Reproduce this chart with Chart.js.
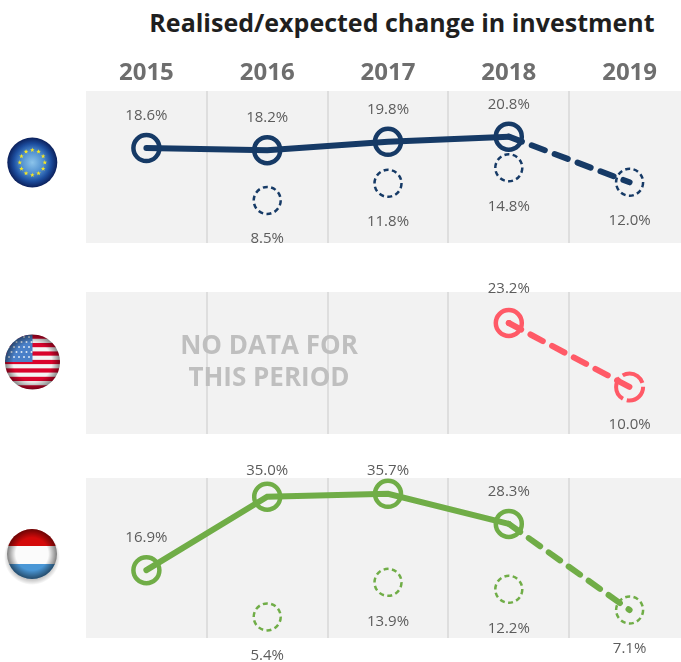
<!DOCTYPE html>
<html>
<head>
<meta charset="utf-8">
<title>Realised/expected change in investment</title>
<script src="https://cdn.jsdelivr.net/npm/chart.js@4"></script>
<style>
    html, body { margin: 0; padding: 0; width: 681px; height: 662px; overflow: hidden; background: #fff; }
    body { position: relative; font-family: 'Open Sans', sans-serif; }
    canvas { position: absolute; left: 86px; }
    svg { position: absolute; left: 0; }
    #titulo { position: absolute; left: 0; width: 804px; top: 5px; text-align: center; font-size: 25px; font-weight: 700; color: #1f1f1f; white-space: nowrap; }
    #sem-dados { position: absolute; left: 149px; width: 240px; top: 328px; text-align: center; font-size: 26px; line-height: 32px; font-weight: 700; color: #bfbfbf; }
</style>
</head>
<body>
<div id="titulo">Realised/expected change in investment</div>

<canvas id="grafico-eu" style="top:50px"></canvas>
<canvas id="grafico-us" style="top:262px"></canvas>
<canvas id="grafico-lu" style="top:455px"></canvas>
<div id="sem-dados">NO DATA FOR<br>THIS PERIOD</div>

<svg id="flag-eu" width="64" height="64" style="top:131px" viewBox="0 0 64 64"></svg>
<svg id="flag-us" width="64" height="70" style="top:327px" viewBox="0 0 64 70"></svg>
<svg id="flag-lu" width="64" height="70" style="top:522px" viewBox="0 0 64 70"></svg>

<script>
// Data
const years = ['2015', '2016', '2017', '2018', '2019'];

const euRealised = [18.6, 18.2, 19.8, 20.8, null];
const euForecast = [null, null, null, 20.8, 12.0];
const euExpected = [null, 8.5, 11.8, 14.8, 12.0];

const usRealised = [null, null, null, 23.2, null];
const usForecast = [null, null, null, 23.2, 10.0];
const usExpected = [null, null, null, null, 10.0];

const luRealised = [16.9, 35.0, 35.7, 28.3, null];
const luForecast = [null, null, null, 28.3, 7.1];
const luExpected = [null, 5.4, 13.9, 12.2, 7.1];

// Panel background, dashed rings and value labels
const panelPlugin = {
    id: 'panel',
    beforeDraw(chart) {
        const { ctx, chartArea: a } = chart;
        ctx.save();
        ctx.fillStyle = '#f2f2f2';
        ctx.fillRect(a.left, a.top, a.right - a.left, a.bottom - a.top);
        ctx.restore();
    },
    beforeDatasetDraw(chart, args) {
        chart.ctx.save();
        if (chart.data.datasets[args.index].ringDash) {
            chart.ctx.setLineDash(chart.data.datasets[args.index].ringDash);
        }
    },
    afterDatasetDraw(chart) {
        chart.ctx.restore();
    },
    afterDatasetsDraw(chart) {
        const { ctx, chartArea: a } = chart;
        ctx.save();
        ctx.font = '15px "Open Sans"';
        ctx.fillStyle = '#5c5c5c';
        ctx.textAlign = 'center';
        ctx.textBaseline = 'middle';
        chart.data.datasets.forEach((ds, i) => {
            if (!ds.labelGap) return;
            chart.getDatasetMeta(i).data.forEach((pt, j) => {
                if (ds.data[j] === null) return;
                let y = pt.y + ds.labelGap;
                // points close to the top edge keep their label just over the panel
                if (ds.labelGap < 0 && pt.y - a.top < 20) y = a.top - 7;
                ctx.fillText(ds.data[j].toFixed(1) + '%', pt.x, y);
            });
        });
        ctx.restore();
    }
};

function criarGrafico(id, cfg) {
    const canvas = document.getElementById(id);
    canvas.width = 604;
    canvas.height = cfg.height;
    canvas.style.width = '604px';
    canvas.style.height = cfg.height + 'px';

    return new Chart(canvas.getContext('2d'), {
        type: 'line',
        plugins: [panelPlugin],
        data: {
            labels: years,
            datasets: [
                {
                    data: cfg.realised,
                    labelGap: cfg.gapAbove,
                    borderColor: cfg.color,
                    borderWidth: 6,
                    borderCapStyle: 'round',
                    pointRadius: 13,
                    pointHoverRadius: 13,
                    pointBorderWidth: 4.5,
                    pointBorderColor: cfg.color,
                    pointBackgroundColor: 'transparent',
                    spanGaps: false
                },
                {
                    data: cfg.forecast,
                    borderColor: cfg.color,
                    borderWidth: 6,
                    borderCapStyle: 'round',
                    borderDash: [14, 10.5],
                    pointRadius: 0,
                    spanGaps: false
                },
                {
                    data: cfg.expected,
                    labelGap: cfg.gapBelow,
                    showLine: false,
                    ringDash: cfg.ringDash,
                    pointRadius: 13.5,
                    pointHoverRadius: 13.5,
                    pointBorderWidth: cfg.ringWidth,
                    pointBorderColor: cfg.color,
                    pointBackgroundColor: 'transparent'
                }
            ]
        },
        options: {
            responsive: false,
            animation: false,
            devicePixelRatio: 1,
            layout: { autoPadding: false, padding: { top: cfg.padTop, bottom: cfg.padBottom, left: 0, right: 0 } },
            plugins: { legend: { display: false }, tooltip: { enabled: false } },
            scales: {
                x: {
                    position: 'top',
                    offset: true,
                    afterFit: scale => { scale.height = cfg.axisHeight; },
                    border: { display: false },
                    grid: {
                        offset: true,
                        drawTicks: false,
                        lineWidth: 2,
                        color: ctx => (ctx.index === 0 || ctx.index === years.length) ? 'transparent' : '#dedede'
                    },
                    ticks: {
                        display: cfg.showYears,
                        maxRotation: 0,
                        padding: 3,
                        color: '#6e6e6e',
                        font: { family: 'Open Sans', size: 24, weight: '700' }
                    }
                },
                y: { display: false, min: cfg.min, max: cfg.max }
            }
        }
    });
}

criarGrafico('grafico-eu', {
    realised: euRealised, forecast: euForecast, expected: euExpected,
    color: '#163a66', min: 0.3, max: 29.6, height: 212,
    padTop: 0, padBottom: 19, axisHeight: 41, showYears: true,
    gapAbove: -32, gapBelow: 38.5, ringDash: [5, 3.4], ringWidth: 2.5
});
criarGrafico('grafico-us', {
    realised: usRealised, forecast: usForecast, expected: usExpected,
    color: '#ff5a67', min: 0.3, max: 29.6, height: 193,
    padTop: 30, padBottom: 21, axisHeight: 0, showYears: false,
    gapAbove: -34, gapBelow: 38, ringDash: [24, 4], ringWidth: 4
});
criarGrafico('grafico-lu', {
    realised: luRealised, forecast: luForecast, expected: luExpected,
    color: '#70ad47', min: 0.2, max: 39.6, height: 207,
    padTop: 23, padBottom: 24, axisHeight: 0, showYears: false,
    gapAbove: -32, gapBelow: 39, ringDash: [5, 3.4], ringWidth: 2.5
});

// Flags
const SVG_NS = 'http://www.w3.org/2000/svg';

function svgEl(parent, tag, attrs) {
    const el = document.createElementNS(SVG_NS, tag);
    Object.keys(attrs).forEach(k => el.setAttribute(k, attrs[k]));
    parent.appendChild(el);
    return el;
}

function gradiente(svg, id, stops) {
    const defs = svgEl(svg, 'defs', {});
    const g = svgEl(defs, 'radialGradient', { id: id, cx: '50%', cy: '50%', r: '50%' });
    stops.forEach(s => svgEl(g, 'stop', { offset: s[0], 'stop-color': s[1], 'stop-opacity': s[2] }));
}

function estrela(svg, cx, cy, r, fill) {
    let pts = '';
    for (let i = 0; i < 10; i++) {
        const rad = i % 2 ? r * 0.42 : r;
        const ang = -Math.PI / 2 + i * Math.PI / 5;
        pts += (cx + rad * Math.cos(ang)).toFixed(2) + ',' + (cy + rad * Math.sin(ang)).toFixed(2) + ' ';
    }
    svgEl(svg, 'polygon', { points: pts, fill: fill });
}

function bandeiraEU() {
    const svg = document.getElementById('flag-eu');
    gradiente(svg, 'eu-g', [['0%', '#8cc4ea', 1], ['45%', '#4f8fcf', 1], ['75%', '#1c4d9e', 1], ['100%', '#0b1f5a', 1]]);
    svgEl(svg, 'circle', { cx: 32.3, cy: 31.5, r: 25, fill: 'url(#eu-g)' });
    for (let i = 0; i < 12; i++) {
        const a = i * Math.PI / 6;
        estrela(svg, 32.3 + 12.5 * Math.sin(a), 31.5 - 12.5 * Math.cos(a), 2.4, '#f5e625');
    }
}

function bandeiraUS() {
    const svg = document.getElementById('flag-us');
    const cx = 32.5, cy = 35, r = 27.5;
    const defs = svgEl(svg, 'defs', {});
    svgEl(svgEl(defs, 'clipPath', { id: 'us-c' }), 'circle', { cx: cx, cy: cy, r: r });
    gradiente(svg, 'us-g', [['0%', '#000', 0], ['70%', '#000', 0], ['100%', '#000', 0.45]]);
    const g = svgEl(svg, 'g', { 'clip-path': 'url(#us-c)' });
    svgEl(g, 'rect', { x: 0, y: 0, width: 64, height: 70, fill: '#f4f4f4' });
    const faixa = 2 * r / 13;
    for (let i = 0; i < 13; i += 2) {
        svgEl(g, 'rect', { x: 0, y: cy - r + i * faixa, width: 64, height: faixa, fill: '#d9032c' });
    }
    svgEl(g, 'rect', { x: 0, y: cy - r, width: cx, height: r, fill: '#4a80c8' });
    for (let i = 0; i < 5; i++) {
        for (let j = 0; j < 5; j++) {
            svgEl(g, 'circle', { cx: 9 + j * 5 + (i % 2) * 2.5, cy: 10 + i * 5, r: 1, fill: '#dfe9f5' });
        }
    }
    svgEl(svg, 'circle', { cx: cx, cy: cy, r: r, fill: 'url(#us-g)' });
}

function bandeiraLU() {
    const svg = document.getElementById('flag-lu');
    const cx = 32, cy = 32, r = 25;
    const defs = svgEl(svg, 'defs', {});
    svgEl(svgEl(defs, 'clipPath', { id: 'lu-c' }), 'circle', { cx: cx, cy: cy, r: r });
    gradiente(svg, 'lu-g', [['0%', '#000', 0], ['65%', '#000', 0], ['100%', '#000', 0.5]]);
    gradiente(svg, 'lu-s', [['70%', '#000', 0.35], ['100%', '#000', 0]]);
    svgEl(svg, 'circle', { cx: cx, cy: cy + 3, r: r + 3, fill: 'url(#lu-s)' });
    const g = svgEl(svg, 'g', { 'clip-path': 'url(#lu-c)' });
    svgEl(g, 'rect', { x: 0, y: 0, width: 64, height: 24, fill: '#d40a0a' });
    svgEl(g, 'rect', { x: 0, y: 24, width: 64, height: 18, fill: '#fbfbfb' });
    svgEl(g, 'rect', { x: 0, y: 42, width: 64, height: 28, fill: '#4a97d6' });
    svgEl(svg, 'circle', { cx: cx, cy: cy, r: r, fill: 'url(#lu-g)' });
}

bandeiraEU();
bandeiraUS();
bandeiraLU();
</script>
</body>
</html>
